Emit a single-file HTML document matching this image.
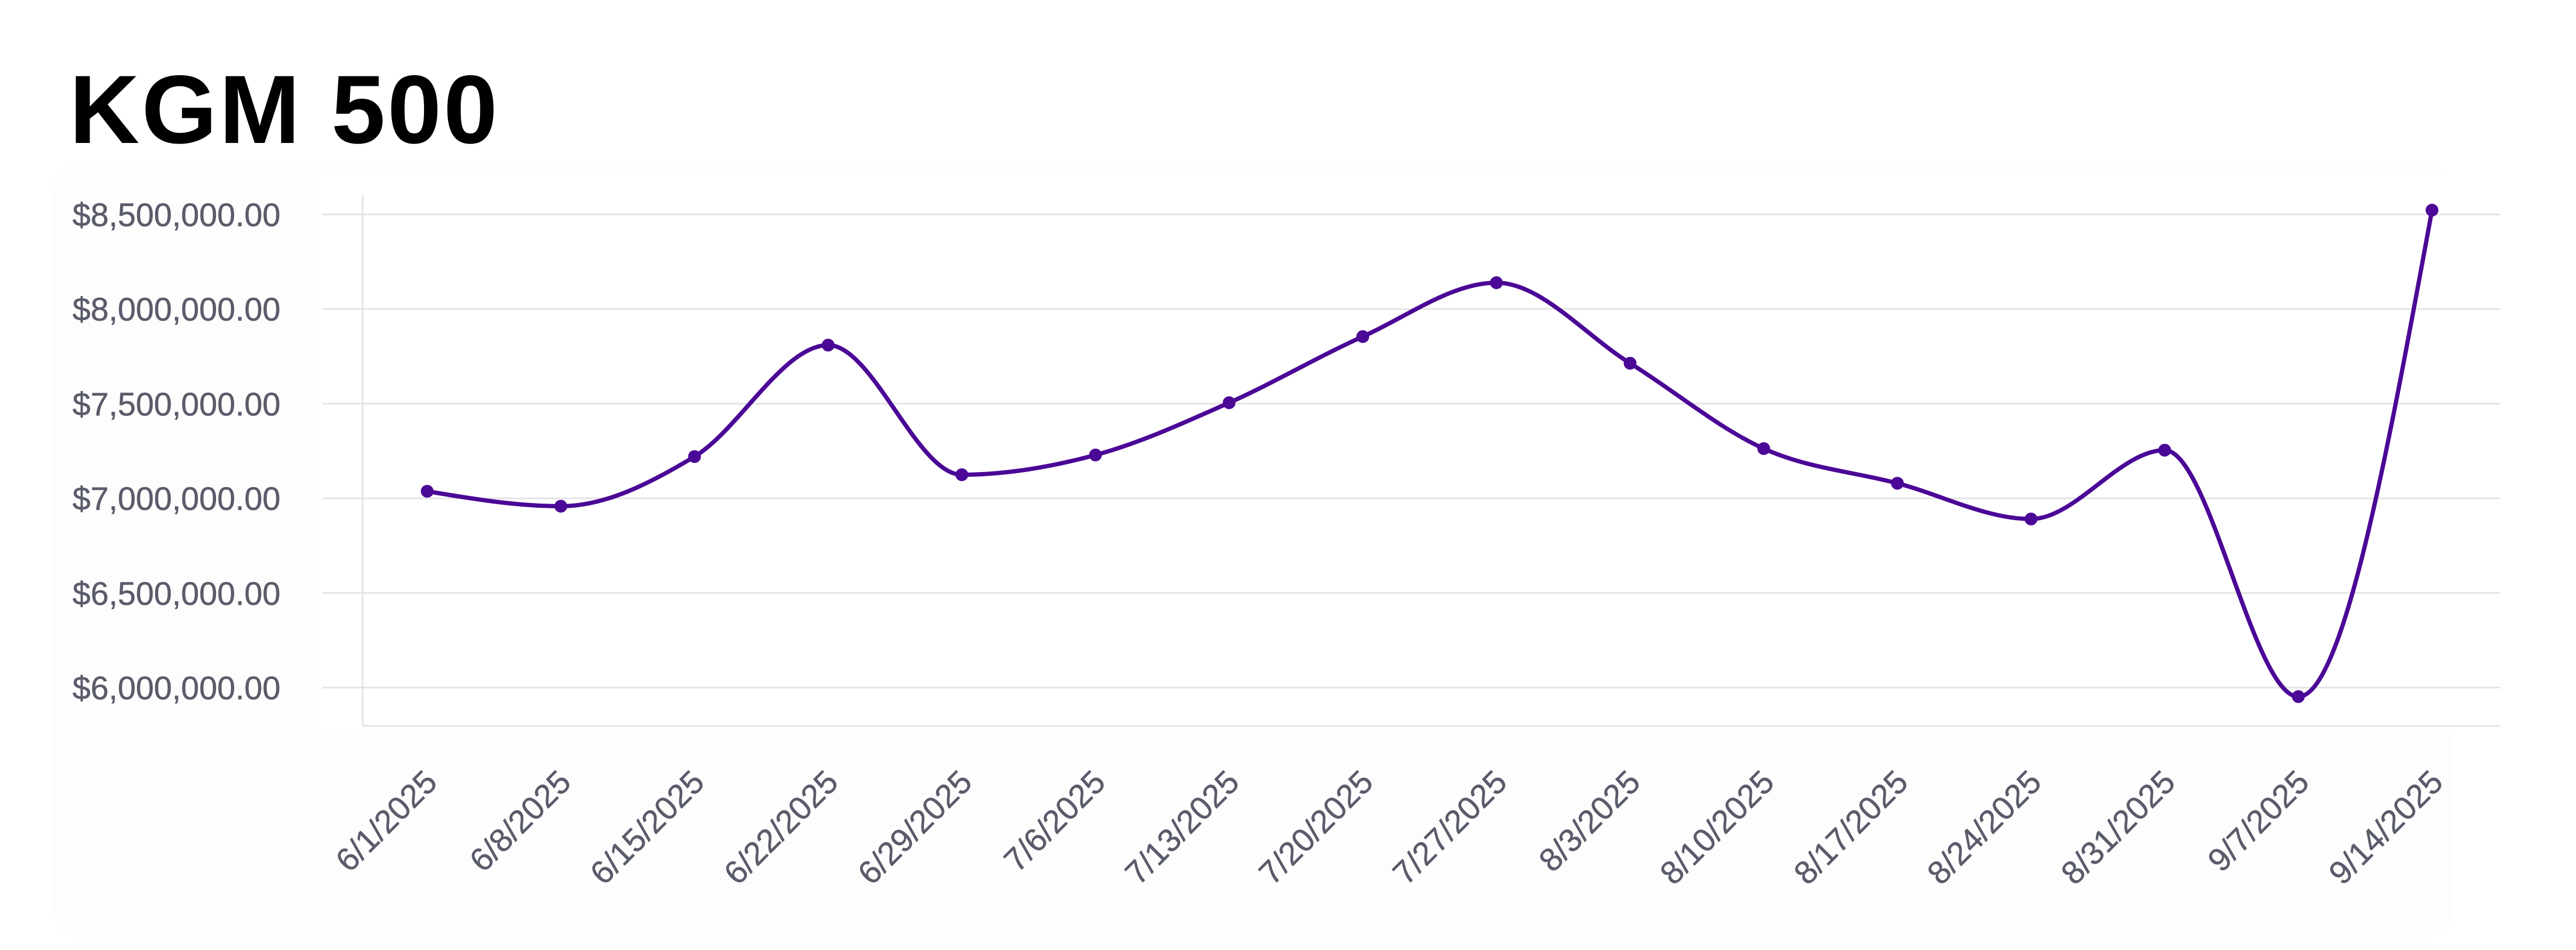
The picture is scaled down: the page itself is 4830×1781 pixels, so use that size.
<!DOCTYPE html>
<html><head><meta charset="utf-8"><style>
html,body{margin:0;padding:0;background:#fff;}
svg{display:block;}
</style></head><body>
<svg id="c" width="4830" height="1781" xmlns="http://www.w3.org/2000/svg">
<rect x="0" y="0" width="4830" height="1781" fill="#fff"/>
<rect x="100" y="300" width="4500" height="1460" rx="60" fill="#fdfdfd"/>
<rect x="600" y="330" width="4130" height="1040" fill="#fff"/>
<text x="130" y="268" font-family="Liberation Sans, sans-serif" font-weight="bold" font-size="182" letter-spacing="4" fill="#000">KGM 500</text>
<g stroke="#e3e3e3" stroke-width="3">
<line x1="605" y1="402" x2="4688" y2="402"/>
<line x1="605" y1="579.4" x2="4688" y2="579.4"/>
<line x1="605" y1="756.8" x2="4688" y2="756.8"/>
<line x1="605" y1="934.2" x2="4688" y2="934.2"/>
<line x1="605" y1="1111.6" x2="4688" y2="1111.6"/>
<line x1="605" y1="1289" x2="4688" y2="1289"/>
<line x1="680" y1="1361" x2="4688" y2="1361"/>
<line x1="680" y1="366" x2="680" y2="1361"/>
</g>
<g font-family="Liberation Sans, sans-serif" font-size="61" fill="#5a5c6b" stroke="#5a5c6b" stroke-width="0.6" text-anchor="end">
<text x="526" y="424">$8,500,000.00</text>
<text x="526" y="601">$8,000,000.00</text>
<text x="526" y="779">$7,500,000.00</text>
<text x="526" y="956">$7,000,000.00</text>
<text x="526" y="1134">$6,500,000.00</text>
<text x="526" y="1311">$6,000,000.00</text>
</g>
<g id="xl" font-family="Liberation Sans, sans-serif" font-size="61" fill="#5a5c6b" stroke="#5a5c6b" stroke-width="0.6" text-anchor="end">
<text transform="translate(823,1470) rotate(-45)">6/1/2025</text>
<text transform="translate(1074,1470) rotate(-45)">6/8/2025</text>
<text transform="translate(1324,1470) rotate(-45)">6/15/2025</text>
<text transform="translate(1575,1470) rotate(-45)">6/22/2025</text>
<text transform="translate(1826,1470) rotate(-45)">6/29/2025</text>
<text transform="translate(2076,1470) rotate(-45)">7/6/2025</text>
<text transform="translate(2327,1470) rotate(-45)">7/13/2025</text>
<text transform="translate(2578,1470) rotate(-45)">7/20/2025</text>
<text transform="translate(2829,1470) rotate(-45)">7/27/2025</text>
<text transform="translate(3079,1470) rotate(-45)">8/3/2025</text>
<text transform="translate(3330,1470) rotate(-45)">8/10/2025</text>
<text transform="translate(3581,1470) rotate(-45)">8/17/2025</text>
<text transform="translate(3831,1470) rotate(-45)">8/24/2025</text>
<text transform="translate(4082,1470) rotate(-45)">8/31/2025</text>
<text transform="translate(4333,1470) rotate(-45)">9/7/2025</text>
<text transform="translate(4584,1470) rotate(-45)">9/14/2025</text>
</g>
<path id="ln" d="" fill="none" stroke="#4b0896" stroke-width="8" stroke-linejoin="round"/>
<g id="dots" fill="#4b0896"></g>
</svg>
<script>
var ys=[921,949,856,647,890,853,755,631,530,681,841,906,973,844,1306,394];
var xs=ys.map(function(_,i){return 801+250.6*i;});
var n=xs.length,d=[],m=[];
for(var i=0;i<n-1;i++)d.push((ys[i+1]-ys[i])/(xs[i+1]-xs[i]));
for(var i=0;i<n;i++){
 if(i==0||i==n-1)m.push(0);
 else if(d[i-1]*d[i]<=0)m.push(0);
 else{var h0=xs[i]-xs[i-1],h1=xs[i+1]-xs[i];
  var p=(d[i-1]*h1+d[i]*h0)/(h0+h1);
  m.push((Math.sign(d[i-1])+Math.sign(d[i]))*Math.min(Math.abs(d[i-1]),Math.abs(d[i]),0.5*Math.abs(p)));}
}
m[0]=(3*d[0]-m[1])/2; m[n-1]=(3*d[n-2]-m[n-2])/2;
var s="M"+xs[0]+","+ys[0];
for(var i=0;i<n-1;i++){var h=(xs[i+1]-xs[i])/3;
 s+="C"+(xs[i]+h)+","+(ys[i]+h*m[i])+","+(xs[i+1]-h)+","+(ys[i+1]-h*m[i+1])+","+xs[i+1]+","+ys[i+1];}
document.getElementById("ln").setAttribute("d",s);
var g=document.getElementById("dots"),html="";
for(var i=0;i<n;i++)html+='<circle cx="'+xs[i]+'" cy="'+ys[i]+'" r="12"/>';
g.innerHTML=html;
</script>
</body></html>
